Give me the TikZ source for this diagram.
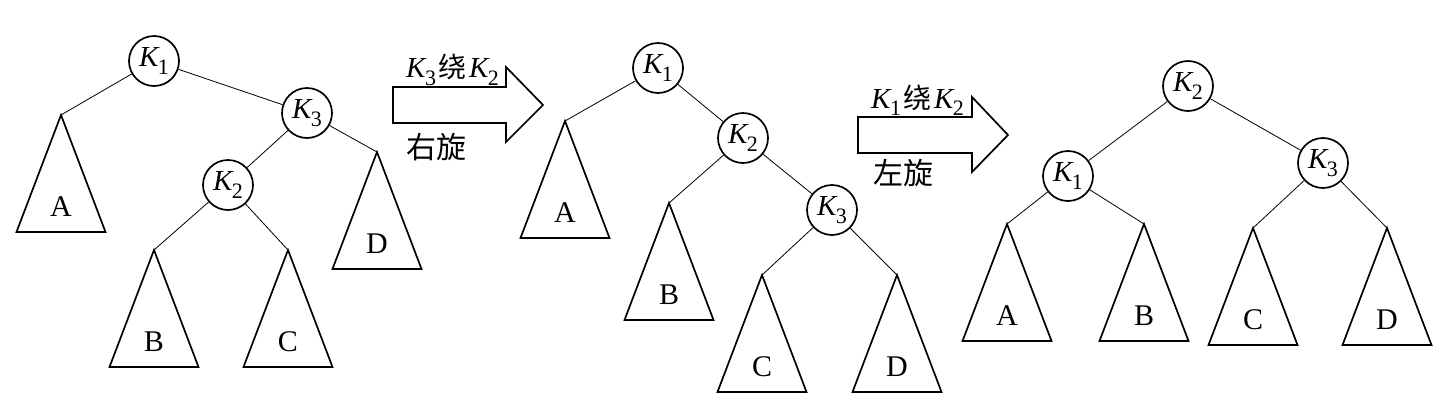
\documentclass[tikz,border=0pt]{standalone}
\usepackage{fontspec}
\setmainfont{Liberation Serif}
\newfontfamily\cjk{Noto Sans CJK SC}
\usetikzlibrary{calc}
\newcommand{\kk}[1]{{\fontsize{29}{32}\selectfont\itshape K}\kern-0.5pt\raisebox{-7.5pt}{\fontsize{22}{24}\selectfont #1}}
\newcommand{\rao}{\hspace{2pt}{\cjk\fontsize{28}{30}\selectfont 绕}\hspace{3pt}}
\tikzset{
 knode/.style={circle,draw,line width=1.7pt,minimum size=50pt,inner sep=0pt},
 tri/.style={draw,line width=1.7pt,line join=miter},
 lab/.style={font=\fontsize{30}{34}\selectfont,inner sep=0pt},
 conn/.style={draw,line width=0.8pt},
 barrow/.style={draw,line width=1.7pt,line join=miter},
 captext/.style={inner sep=0pt,anchor=west},
 cjkcap/.style={font=\cjk\fontsize{30}{32}\selectfont,inner sep=0pt,anchor=west},
}
\newcommand{\mysubtree}[4]{%
 \coordinate (#1) at (#2,#3);
 \draw[tri] (#1) -- ++(-44.5,117) -- ++(89,0) -- cycle;
 \node[lab] (#1lab) at ($(#1)+(0,92)$) {#4};
}
\begin{document}
\begin{tikzpicture}[x=1pt,y=-1pt]
\fill[white] (0,0) rectangle (1453,405);
\useasboundingbox (0,0) rectangle (1453,405);

% ---- Tree 1 ----
\node[knode] (t1k1) at (154,61) {\kk{1}};
\node[knode] (t1k3) at (307,113) {\kk{3}};
\node[knode] (t1k2) at (228,185) {\kk{2}};
\mysubtree{t1A}{61}{115}{A}
\mysubtree{t1D}{377}{152}{D}
\mysubtree{t1B}{154}{250}{B}
\mysubtree{t1C}{288}{250}{C}
\draw[conn] (t1k1) -- (t1A);
\draw[conn] (t1k1) -- (t1k3);
\draw[conn] (t1k3) -- (t1k2);
\draw[conn] (t1k3) -- (t1D);
\draw[conn] (t1k2) -- (t1B);
\draw[conn] (t1k2) -- (t1C);

% ---- Arrow 1 ----
\draw[barrow] (393,87) -- (506,87) -- (506,67) -- (543,105) -- (506,142) -- (506,123) -- (393,123) -- cycle;
\node[captext] (c1) at (406,70) {\kk{3}\rao\kk{2}};
\node[cjkcap] (c2) at (406,147) {右旋};

% ---- Tree 2 ----
\node[knode] (t2k1) at (658,68) {\kk{1}};
\node[knode] (t2k2) at (743,138) {\kk{2}};
\node[knode] (t2k3) at (832,210) {\kk{3}};
\mysubtree{t2A}{565}{121}{A}
\mysubtree{t2B}{669}{203}{B}
\mysubtree{t2C}{762}{275}{C}
\mysubtree{t2D}{897}{275}{D}
\draw[conn] (t2k1) -- (t2A);
\draw[conn] (t2k1) -- (t2k2);
\draw[conn] (t2k2) -- (t2B);
\draw[conn] (t2k2) -- (t2k3);
\draw[conn] (t2k3) -- (t2C);
\draw[conn] (t2k3) -- (t2D);

% ---- Arrow 2 ----
\draw[barrow] (858,117) -- (972,117) -- (972,97) -- (1008,135) -- (972,172) -- (972,153) -- (858,153) -- cycle;
\node[captext] (c3) at (871,100) {\kk{1}\rao\kk{2}};
\node[cjkcap] (c4) at (873,173) {左旋};

% ---- Tree 3 ----
\node[knode] (t3k2) at (1188,86) {\kk{2}};
\node[knode] (t3k1) at (1068,176) {\kk{1}};
\node[knode] (t3k3) at (1323,163) {\kk{3}};
\mysubtree{t3A}{1007}{224}{A}
\mysubtree{t3B}{1144}{224}{B}
\mysubtree{t3C}{1253}{228}{C}
\mysubtree{t3D}{1387}{228}{D}
\draw[conn] (t3k2) -- (t3k1);
\draw[conn] (t3k2) -- (t3k3);
\draw[conn] (t3k1) -- (t3A);
\draw[conn] (t3k1) -- (t3B);
\draw[conn] (t3k3) -- (t3C);
\draw[conn] (t3k3) -- (t3D);
\end{tikzpicture}
\end{document}
